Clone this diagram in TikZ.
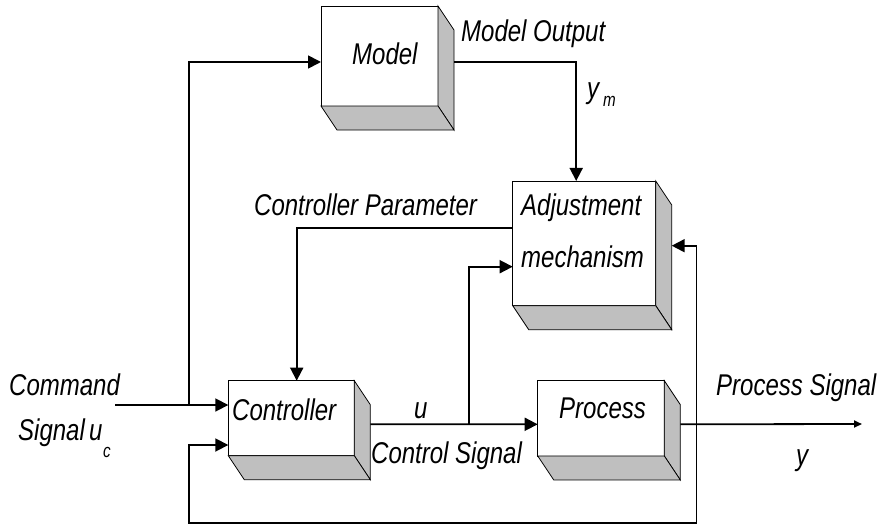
\documentclass[tikz,border=0pt]{standalone}
\usepackage{fontspec}
\setmainfont[FakeStretch=0.80]{Liberation Sans}
\usetikzlibrary{arrows.meta}
\tikzset{
  frontbox/.style={draw=black, line width=0.8pt, fill=white, inner sep=0pt, outer sep=0pt},
  sideface/.style={draw=black, line width=0.8pt, fill=black!25},
  conn/.style={line width=1.8pt, line join=miter},
  arr/.style={conn, -{Triangle[length=13pt,width=13pt]}},
  smallarr/.style={conn, -{Triangle[length=8pt,width=7pt]}},
  lbl/.style={anchor=base west, inner sep=0pt, font=\fontsize{30}{32}\selectfont\itshape},
  sub/.style={anchor=base west, inner sep=0pt, font=\fontsize{19}{21}\selectfont\itshape},
}
\newcommand{\threedbox}[5]{%
  \node[frontbox, minimum width=#4pt, minimum height=#5pt] (#1) at (#2,#3) {};
  \draw[sideface] (#1.north east) -- ++(16,24) -- ([shift={(16,24)}]#1.south east) -- (#1.south east) -- cycle;
  \draw[sideface] (#1.south west) -- ([shift={(16,24)}]#1.south west) -- ([shift={(16,24)}]#1.south east) -- (#1.south east) -- cycle;
}
\begin{document}
\begin{tikzpicture}[x=1pt, y=-1pt]
\useasboundingbox (0,0) rectangle (886,527);
% blocks
\threedbox{model}{379.5}{56}{117}{100}
\threedbox{adj}{584.2}{243.3}{143}{124.7}
\threedbox{ctrl}{291.3}{418.2}{126}{75}
\threedbox{proc}{601}{418.3}{126.6}{75.3}
% block texts
\node[lbl] (tmodel) at (352,65) {Model};
\node[lbl] (tadj1) at (521,215) {Adjustment};
\node[lbl] (tadj2) at (521,267) {mechanism};
\node[lbl] (tctrl) at (232,420) {Controller};
\node[lbl] (tproc) at (559,418) {Process};
% free coordinates
\coordinate (cmdstart) at (115,405);
\coordinate (split) at (189,405);
\coordinate (branch) at (469.3,424);
\coordinate (fb) at (696.5,424);
\coordinate (fbbot) at (696.5,523);
\coordinate (fbleft) at (189,523);
\coordinate (yout) at (862,424);
% connectors
\draw[arr] (cmdstart) -- (ctrl.west |- cmdstart);
\draw[arr] (split) |- ([yshift=-6pt]model.west);
\draw[arr] ([xshift=16pt,yshift=-6pt]model.east) -| ([xshift=-8pt]adj.north);
\draw[arr] ([yshift=15.6pt]adj.west) -| ([xshift=5.4pt]ctrl.north);
\draw[arr] ([xshift=16pt,yshift=-6pt]ctrl.east) -- ([yshift=-6pt]proc.west);
\draw[arr] (branch) |- ([yshift=-23.4pt]adj.west);
\draw[smallarr] ([xshift=16pt,yshift=-6pt]proc.east) -- (yout);
\draw[arr] (fb) |- ([xshift=16pt,yshift=-2.4pt]adj.east);
\draw[arr] (fb) -- (fbbot) -- (fbleft) |- ([yshift=-26.8pt]ctrl.west);
% signal labels
\node[lbl] (tmo) at (461,42) {Model Output};
\node[lbl] (tym) at (587,98) {y};
\node[sub] (tymsub) at (603,106) {m};
\node[lbl] (tcp) at (254,215) {Controller Parameter};
\node[lbl] (tu) at (414,418) {u};
\node[lbl] (tcs) at (371,463) {Control Signal};
\node[lbl] (tcmd) at (9,395) {Command};
\node[lbl] (tsig) at (18,440) {Signal};
\node[lbl] (tsigu) at (89,440) {u};
\node[sub] (tsigsub) at (103,457) {c};
\node[lbl] (tps) at (716,395) {Process Signal};
\node[lbl] (ty) at (796,465) {y};
\end{tikzpicture}
\end{document}
